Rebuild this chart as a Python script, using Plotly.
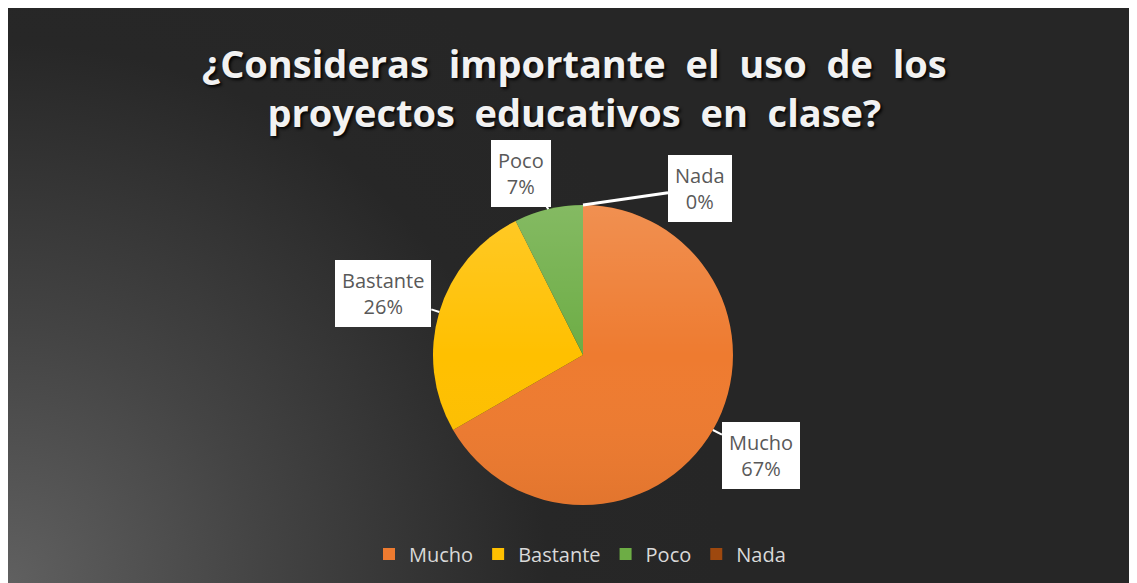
import base64
import math
import plotly.graph_objects as go

# ---- data ----
categories = ["Mucho", "Bastante", "Poco", "Nada"]
values = [18, 7, 2, 0]
colors = ["#EE7B30", "#FFC000", "#6DAD45", "#9E480E"]
title_lines = ["¿Consideras importante el uso de los", "proyectos educativos en clase?"]

# figure is placed by the page at (8, 8) of the window
W, H = 1129, 575

# pie geometry in figure pixels
CX, CY, R = 575, 347, 150


def svg_uri(svg):
    return "data:image/svg+xml;base64," + base64.b64encode(svg.encode()).decode()


bg_svg = f'''<svg xmlns="http://www.w3.org/2000/svg" width="{W}" height="{H}">
<defs><radialGradient id="g" gradientUnits="userSpaceOnUse" cx="0" cy="{H}" r="720">
<stop offset="0" stop-color="#606060"/>
<stop offset="0.35" stop-color="#444444"/>
<stop offset="0.75" stop-color="#272727"/>
<stop offset="1" stop-color="#262626"/>
</radialGradient></defs>
<rect x="0" y="0" width="{W}" height="{H}" fill="url(#g)"/>
</svg>'''

shade_svg = f'''<svg xmlns="http://www.w3.org/2000/svg" width="{2*R}" height="{2*R}">
<defs><linearGradient id="s" x1="0" y1="0" x2="0" y2="1">
<stop offset="0" stop-color="#ffffff" stop-opacity="0.16"/>
<stop offset="0.5" stop-color="#ffffff" stop-opacity="0"/>
<stop offset="1" stop-color="#000000" stop-opacity="0.05"/>
</linearGradient></defs>
<circle cx="{R}" cy="{R}" r="{R}" fill="url(#s)"/>
</svg>'''

fig = go.Figure()
fig.add_trace(go.Pie(
    labels=categories, values=values, sort=False, direction="clockwise", rotation=0,
    marker=dict(colors=colors, line=dict(width=0)),
    textinfo="none", hoverinfo="label+percent",
    domain=dict(x=[(CX - R) / W, (CX + R) / W], y=[(H - CY - R) / H, (H - CY + R) / H]),
))

# data labels with leader arrows, positioned from slice mid-angles
total = sum(values)
offsets = [(48, 25), (-56, -18), (-27, -36), (117, -17)]
cum = 0
annotations = []
for cat, v, (ox, oy) in zip(categories, values, offsets):
    mid = (cum + v / 2) / total * 2 * math.pi
    cum += v
    px = CX + R * math.sin(mid)
    py = CY - R * math.cos(mid)
    annotations.append(dict(
        x=px / W, y=1 - py / H, xref="paper", yref="paper",
        text=f"{cat}<br>{round(v / total * 100)}%",
        showarrow=True, arrowhead=0, arrowwidth=3 if cat == "Nada" else 2, arrowcolor="white",
        ax=ox, ay=oy, bgcolor="white", borderpad=7, borderwidth=0,
        font=dict(family="Open Sans", size=20, color="#595959"),
    ))

# wide word spacing as in the original title
title_text = "<br>".join(line.replace(" ", " \u00a0") for line in title_lines)
annotations.append(dict(
    x=566 / W, y=1 - 79 / H, xref="paper", yref="paper", showarrow=False,
    xanchor="center", yanchor="middle",
    text=title_text, align="center",
    font=dict(family="Open Sans", size=38, color="#F2F2F2", weight="bold",
              shadow="2px 2px 3px rgba(0,0,0,0.9)"),
))

fig.update_layout(
    width=W, height=H,
    margin=dict(l=0, r=0, t=0, b=0),
    paper_bgcolor="#262626", plot_bgcolor="rgba(0,0,0,0)",
    images=[
        dict(source=svg_uri(bg_svg), xref="paper", yref="paper", x=0, y=1,
             sizex=1, sizey=1, sizing="stretch",
             xanchor="left", yanchor="top", layer="below"),
        dict(source=svg_uri(shade_svg), xref="paper", yref="paper",
             x=(CX - R) / W, y=1 - (CY - R) / H, sizex=2 * R / W, sizey=2 * R / H,
             sizing="stretch", xanchor="left", yanchor="top", layer="above"),
    ],
    annotations=annotations,
    showlegend=True,
    legend=dict(orientation="h", x=572 / W, xanchor="center", y=29 / H, yanchor="middle",
                font=dict(family="Open Sans", size=20, color="#D9D9D9"),
                bgcolor="rgba(0,0,0,0)", traceorder="normal"),
)

fig.write_html("out.html")
